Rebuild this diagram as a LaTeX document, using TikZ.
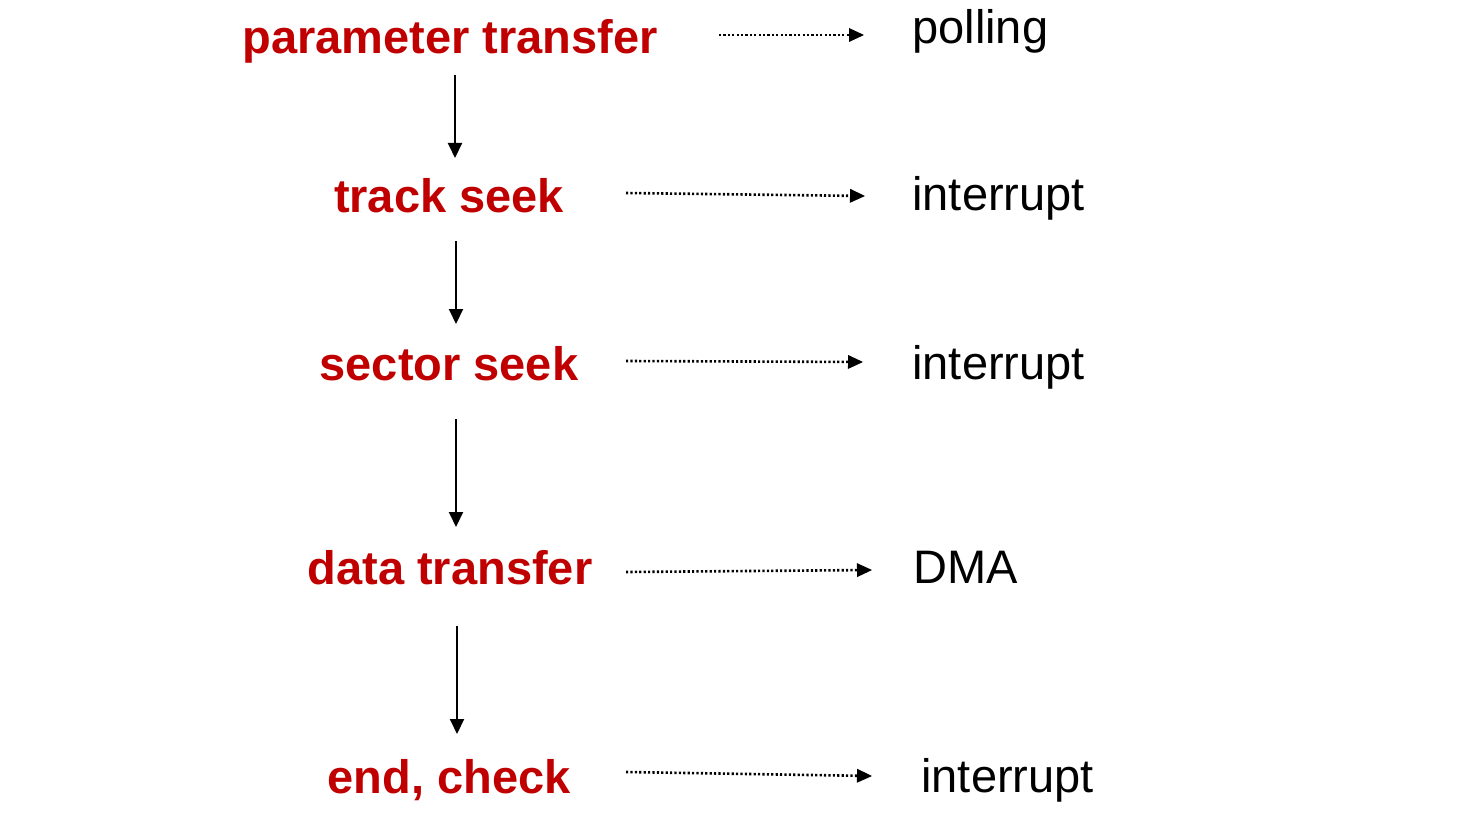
\documentclass[tikz,border=0pt]{standalone}
\usepackage{fontspec}
\setmainfont{Liberation Sans}
\usetikzlibrary{arrows.meta}
\definecolor{stepred}{RGB}{192,0,0}
\begin{document}
\begin{tikzpicture}[x=0.5pt,y=-0.5pt,
  stage/.style={inner sep=0pt,anchor=base,text=stepred,font=\fontsize{23.5}{28}\selectfont\bfseries},
  method/.style={inner sep=0pt,anchor=base west,text=black,font=\fontsize{23.5}{28}\selectfont},
  flow/.style={line width=1pt,-{Triangle[length=7.5pt,width=7pt]}},
  link/.style={line width=1.3pt,dash pattern=on 1.1pt off 1.1pt,-{Triangle[length=7.5pt,width=7pt,line width=0pt]}}]
\useasboundingbox (0,0) rectangle (1476,818);
% stages
\node[stage] (s1) at (450,54) {parameter transfer};
\node[stage] (s2) at (449,213) {track seek};
\node[stage] (s3) at (449,380) {sector seek};
\node[stage] (s4) at (450,584) {data transfer};
\node[stage] (s5) at (449,793) {end, check};
% methods
\node[method] (m1) at (912,44) {polling};
\node[method] (m2) at (912,211) {interrupt};
\node[method] (m3) at (912,379) {interrupt};
\node[method] (m4) at (913,583) {DMA};
\node[method] (m5) at (921,792) {interrupt};
% connector end points
\coordinate (v1a) at (455,75);  \coordinate (v1b) at (455,158);
\coordinate (v2a) at (456,241); \coordinate (v2b) at (456,324);
\coordinate (v3a) at (456,419); \coordinate (v3b) at (456,527);
\coordinate (v4a) at (457,626); \coordinate (v4b) at (457,734);
\coordinate (h1a) at (719,35);  \coordinate (h1b) at (864,35);
\coordinate (h2a) at (626,193); \coordinate (h2b) at (865,196);
\coordinate (h3a) at (626,361); \coordinate (h3b) at (863,362);
\coordinate (h4a) at (626,572); \coordinate (h4b) at (872,570);
\coordinate (h5a) at (626,772); \coordinate (h5b) at (872,776);
% vertical flow
\draw[flow] (v1a) -- (v1b);
\draw[flow] (v2a) -- (v2b);
\draw[flow] (v3a) -- (v3b);
\draw[flow] (v4a) -- (v4b);
% dotted links
\draw[link] (h1a) -- (h1b);
\draw[link] (h2a) -- (h2b);
\draw[link] (h3a) -- (h3b);
\draw[link] (h4a) -- (h4b);
\draw[link] (h5a) -- (h5b);
\end{tikzpicture}
\end{document}
